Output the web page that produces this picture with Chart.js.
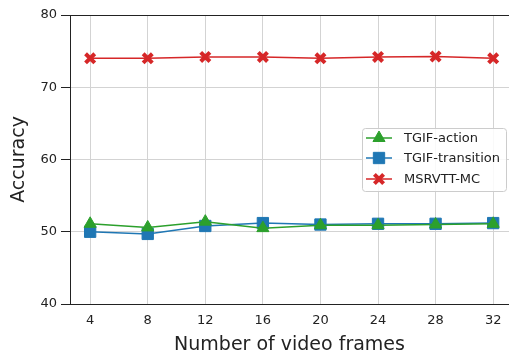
<!DOCTYPE html>
<html>
<head>
<meta charset="utf-8">
<script src="https://cdn.jsdelivr.net/npm/chart.js@4"></script>
<style>
  html, body { margin: 0; padding: 0; background: #fff; overflow: hidden; }
  #wrap { width: 509px; height: 362px; }
</style>
</head>
<body>
<div id="wrap"><canvas id="accChart" width="509" height="362"></canvas></div>
<script>
// number of video frames
const frames = [4, 8, 12, 16, 20, 24, 28, 32];
const tgifAction = [51.1, 50.6, 51.4, 50.5, 50.9, 50.9, 51.0, 51.1];
const tgifTransition = [50.0, 49.7, 50.8, 51.2, 51.0, 51.1, 51.1, 51.2];
const msrvttMC = [74.0, 74.0, 74.2, 74.2, 74.0, 74.2, 74.25, 74.0];
const yTicks = [40, 50, 60, 70, 80];

const green = '#2ca02c', blue = '#1f77b4', red = '#d62728';
const font = 'DejaVu Sans';

function pts(vals) {
    return frames.map((f, i) => ({ x: f, y: vals[i] }));
}

// top spine + legend box in the middle right
const extras = {
    id: 'extras',
    afterDraw(chart) {
        const ctx = chart.ctx;
        const area = chart.chartArea;
        ctx.save();
        ctx.strokeStyle = '#222';
        ctx.lineWidth = 1;
        ctx.beginPath();
        ctx.moveTo(area.left, area.top + 0.5);
        ctx.lineTo(chart.width, area.top + 0.5);
        ctx.stroke();

        // legend
        const bx = 362, by = 128, bw = 144, bh = 63;
        ctx.fillStyle = 'rgba(255,255,255,0.85)';
        ctx.strokeStyle = '#cccccc';
        ctx.beginPath();
        ctx.roundRect(bx + 0.5, by + 0.5, bw, bh, 3);
        ctx.fill();
        ctx.stroke();

        const rows = [138, 158, 179];
        chart.data.datasets.forEach((ds, i) => {
            const y = rows[i];
            ctx.strokeStyle = ds.borderColor;
            ctx.lineWidth = 1.5;
            ctx.beginPath();
            ctx.moveTo(366, y);
            ctx.lineTo(392, y);
            ctx.stroke();
            ctx.fillStyle = ds.pointBackgroundColor;
            ctx.strokeStyle = ds.pointBorderColor;
            ctx.lineWidth = ds.pointBorderWidth;
            Chart.helpers.drawPoint(ctx, {
                pointStyle: ds.pointStyle,
                radius: ds.pointRadius,
                rotation: 0,
                borderWidth: ds.pointBorderWidth
            }, 379, y);
            ctx.fillStyle = '#222';
            ctx.font = '13px "' + font + '"';
            ctx.textBaseline = 'middle';
            ctx.fillText(ds.label, 404, y + 1);
        });
        ctx.restore();
    }
};

new Chart(document.getElementById('accChart'), {
    type: 'line',
    data: {
        datasets: [
            {
                label: 'TGIF-action',
                data: pts(tgifAction),
                borderColor: green,
                borderWidth: 1.5,
                pointStyle: 'triangle',
                pointRadius: 7,
                pointBackgroundColor: green,
                pointBorderColor: green,
                pointBorderWidth: 1
            },
            {
                label: 'TGIF-transition',
                data: pts(tgifTransition),
                borderColor: blue,
                borderWidth: 1.5,
                pointStyle: 'rect',
                pointRadius: 8,
                pointBackgroundColor: blue,
                pointBorderColor: blue,
                pointBorderWidth: 1
            },
            {
                label: 'MSRVTT-MC',
                data: pts(msrvttMC),
                borderColor: red,
                borderWidth: 1.5,
                pointStyle: 'crossRot',
                pointRadius: 6.5,
                pointBackgroundColor: red,
                pointBorderColor: red,
                pointBorderWidth: 4
            }
        ]
    },
    options: {
        responsive: false,
        animation: false,
        layout: { autoPadding: false, padding: { top: 15, right: 0, left: 0, bottom: 0 } },
        plugins: {
            legend: { display: false },
            tooltip: { enabled: false }
        },
        scales: {
            x: {
                type: 'linear',
                min: 2.6,
                max: 33.1,
                afterBuildTicks: (scale) => { scale.ticks = frames.map(v => ({ value: v })); },
                afterFit: (scale) => {
                    scale.height = 58;
                    scale.paddingLeft = 0;
                    scale.paddingRight = 0;
                },
                grid: { color: '#d3d3d3', lineWidth: 1, drawTicks: false },
                border: { color: '#222', width: 1 },
                ticks: { padding: 9, color: '#222', font: { family: font, size: 13 } },
                title: {
                    display: true,
                    text: 'Number of video frames',
                    color: '#222',
                    font: { family: font, size: 19 },
                    padding: { top: 0, bottom: 6 }
                }
            },
            y: {
                min: 40,
                max: 80,
                afterBuildTicks: (scale) => { scale.ticks = yTicks.map(v => ({ value: v })); },
                afterFit: (scale) => {
                    scale.width = 70;
                    scale.paddingTop = 0;
                    scale.paddingBottom = 0;
                },
                grid: { color: '#d3d3d3', lineWidth: 1, tickLength: 9, tickColor: '#222' },
                border: { color: '#222', width: 1 },
                ticks: { padding: 4, color: '#222', font: { family: font, size: 13 } },
                title: {
                    display: true,
                    text: 'Accuracy',
                    color: '#222',
                    font: { family: font, size: 19 },
                    padding: { top: 8, bottom: 0 }
                }
            }
        }
    },
    plugins: [extras]
});
</script>
</body>
</html>
